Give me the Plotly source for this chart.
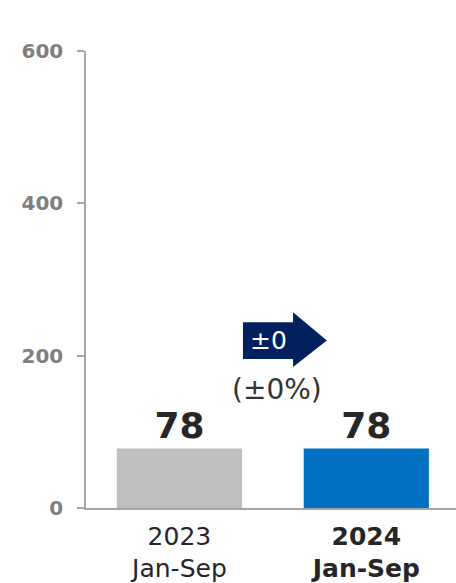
import plotly.graph_objects as go

# Data
categories = ["2023<br>Jan-Sep", "<b>2024<br>Jan-Sep</b>"]
values = [78, 78]
bar_colors = ["#BFBFBF", "#0070C0"]
change_abs = "±0"
change_pct = "(±0%)"
y_ticks = [0, 200, 400, 600]

FONT = "DejaVu Sans"
NAVY = "#002060"

fig = go.Figure()
fig.add_trace(go.Bar(
    x=[0, 1],
    y=values,
    marker=dict(color=bar_colors, line=dict(width=0)),
    width=0.67,
    text=[f"<b>{v}</b>" for v in values],
    textposition="outside",
    textfont=dict(family=FONT, size=36, color="#262626"),
    cliponaxis=False,
    hoverinfo="skip",
))

# Change arrow between the two bars
x0, x1, x2 = 0.34, 0.608, 0.789
yb0, yb1 = 195.5, 244
yh0, yh1 = 185, 257
ym = (yb0 + yb1) / 2
arrow_path = (f"M {x0},{yb0} L {x1},{yb0} L {x1},{yh0} L {x2},{ym} "
              f"L {x1},{yh1} L {x1},{yb1} L {x0},{yb1} Z")
fig.add_shape(type="path", path=arrow_path, xref="x", yref="y",
              fillcolor=NAVY, line=dict(width=0), layer="above")
fig.add_annotation(x=(x0 + x1) / 2, y=ym, xref="x", yref="y", text=change_abs,
                   showarrow=False, font=dict(family=FONT, size=25, color="white"))
fig.add_annotation(x=0.52, y=155, xref="x", yref="y", text=change_pct,
                   showarrow=False, font=dict(family=FONT, size=28, color="#333333"))

fig.update_layout(
    width=456, height=583,
    margin=dict(l=86, r=0, t=51, b=75),
    paper_bgcolor="white", plot_bgcolor="white",
    showlegend=False,
    bargap=0.33,
    xaxis=dict(
        tickmode="array", tickvals=[0, 1], ticktext=categories,
        range=[-0.5, 1.48],
        showline=True, linecolor="#A6A6A6", linewidth=1.5,
        ticks="", showgrid=False, zeroline=False,
        tickfont=dict(family=FONT, size=25, color="#262626"),
        ticklabelstandoff=5,
    ),
    yaxis=dict(
        range=[0, 600], tickvals=y_ticks,
        ticktext=[f"<b>{t}</b>" for t in y_ticks],
        showline=True, linecolor="#A6A6A6", linewidth=1.5,
        ticks="outside", ticklen=7, tickcolor="#A6A6A6", tickwidth=1.5,
        showgrid=False, zeroline=False,
        tickfont=dict(family=FONT, size=20, color="#7F7F7F"),
        ticklabelstandoff=10,
    ),
)

fig.write_html("out.html")
